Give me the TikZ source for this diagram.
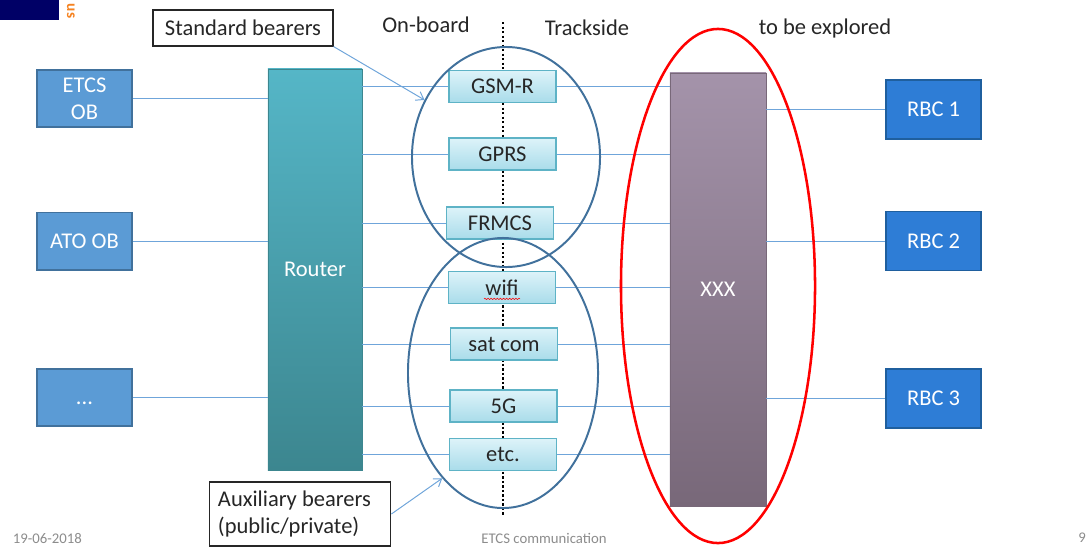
\documentclass[tikz,border=0pt]{standalone}
\usepackage{fontspec}
\setmainfont{Carlito}
\usetikzlibrary{arrows.meta,shapes.geometric,decorations.pathmorphing}
\definecolor{obfill}{HTML}{5B9BD5}
\definecolor{obline}{HTML}{41719C}
\definecolor{rbcfill}{HTML}{2E7DD6}
\definecolor{rbcline}{HTML}{1F5F9E}
\definecolor{linkblue}{HTML}{6FA5DA}
\definecolor{ringblue}{HTML}{41719C}
\definecolor{bearerline}{HTML}{5EB3C6}
\definecolor{bearertop}{HTML}{DDF3F9}
\definecolor{bearerbot}{HTML}{A9DCEA}
\definecolor{routertop}{HTML}{55B6C7}
\definecolor{routerbot}{HTML}{3C868F}
\definecolor{xxxtop}{HTML}{A493AA}
\definecolor{xxxbot}{HTML}{786879}
\definecolor{logonavy}{HTML}{000066}
\definecolor{logoorange}{HTML}{F58220}
\definecolor{footgray}{HTML}{8C8C8C}

\begin{document}
\begin{tikzpicture}[x=0.025cm, y=-0.025cm,
  every node/.style={font=\fontsize{16}{19}\selectfont, text=black!85},
  obbox/.style={draw=obline, fill=obfill, line width=1.4pt, text=white, align=center,
    minimum width=2.375cm, minimum height=1.425cm, inner sep=1pt},
  rbcbox/.style={draw=rbcline, fill=rbcfill, line width=1.2pt, text=white,
    minimum width=2.375cm, minimum height=1.475cm},
  bearer/.style={draw=bearerline, top color=bearertop, bottom color=bearerbot, line width=0.8pt,
    minimum width=2.675cm, minimum height=0.8cm},
  link/.style={draw=linkblue, line width=0.7pt},
  ring/.style={draw=ringblue, ellipse, line width=1.4pt, inner sep=0pt},
  callout/.style={draw=black!85, fill=white, line width=0.8pt, align=flush left, inner xsep=6pt},
  pointer/.style={link, -{Straight Barb[length=5pt,width=7pt]}},
  foot/.style={font=\fontsize{10.5}{12}\selectfont, text=footgray}]
\useasboundingbox (0,0) rectangle (1089,548);
\fill[logonavy] (0,0) rectangle (59,20);
\node[rotate=-90, text=logoorange, font=\bfseries\fontsize{11}{12}\selectfont] (logo) at (71,11) {us};

\coordinate (divtop) at (503,22);
\coordinate (divbot) at (503,515);
\draw[line width=1.6pt, dash pattern=on 1.6pt off 1.6pt] (divtop) -- (divbot);

\node[obbox] (etcs) at (84.5,98.5) {ETCS\\OB};
\node[obbox] (ato) at (84.5,241) {ATO OB};
\node[obbox, text height=0.35cm, text depth=0.02cm] (more) at (84.5,397.5) {...};
\node[draw=routerbot, top color=routertop, bottom color=routerbot, text=white,
  minimum width=2.35cm, minimum height=10.025cm] (router) at (315,269.5) {Router};
\node[draw=xxxbot, top color=xxxtop, bottom color=xxxbot, text=white,
  minimum width=2.4cm, minimum height=10.825cm] (xxx) at (718,289.5) {XXX};

\node[bearer] (gsmr) at (502.5,86.5) {GSM-R};
\node[bearer] (gprs) at (502.5,154) {GPRS};
\node[bearer] (frmcs) at (500,223) {FRMCS};
\node[bearer] (wifi) at (502,287.5) {wifi};
\node[bearer] (satcom) at (504,344) {sat com};
\node[bearer] (fiveg) at (503.5,406) {5G};
\node[bearer] (etc) at (503,454.5) {etc.};
\draw[red, decorate, decoration={snake, amplitude=0.5pt, segment length=2.2pt}]
  ([xshift=-0.45cm,yshift=-0.09cm]wifi.base) -- ([xshift=0.45cm,yshift=-0.09cm]wifi.base);

\node[rbcbox] (rbc1) at (933.5,109.5) {RBC 1};
\node[rbcbox] (rbc2) at (933.5,241) {RBC 2};
\node[rbcbox] (rbc3) at (933.5,398.5) {RBC 3};

\foreach \o in {etcs,ato,more}
  \draw[link] (\o) -- (router.west |- \o);
\foreach \b in {gsmr,gprs,frmcs,wifi,satcom,fiveg,etc}
  \draw[link] (router.east |- \b) -- (\b) -- (xxx.west |- \b);
\foreach \r in {rbc1,rbc2,rbc3}
  \draw[link] (xxx.east |- \r) -- (\r);

\node[ring, minimum width=4.7cm, minimum height=5.5cm] (stdring) at (506,157) {};
\node[ring, minimum width=4.75cm, minimum height=6.75cm] (auxring) at (503,373) {};
\node[ring, draw=red, line width=1.8pt, minimum width=4.85cm, minimum height=12.85cm] (explore) at (718,286) {};

\node (onboard) at (426,25) {On-board};
\node (trackside) at (587,28) {Trackside};
\node (tobe) at (825,28) {to be explored};

\node[callout, minimum width=4.5cm, minimum height=0.9cm] (stdlbl) at (243,28) {Standard bearers};
\node[callout, text width=4.1cm, inner xsep=0.22cm, minimum height=1.6cm] (auxlbl) at (300,514) {Auxiliary bearers\\(public/private)};
\draw[pointer] (stdlbl.south east) -- (stdring.145);
\draw[pointer] (auxlbl.east) -- (auxring.240);

\node[foot, anchor=west] (date) at (8,538) {19-06-2018};
\node[foot] (topic) at (544,538) {ETCS communication};
\node[foot] (page) at (1082,538) {9};
\end{tikzpicture}
\end{document}
